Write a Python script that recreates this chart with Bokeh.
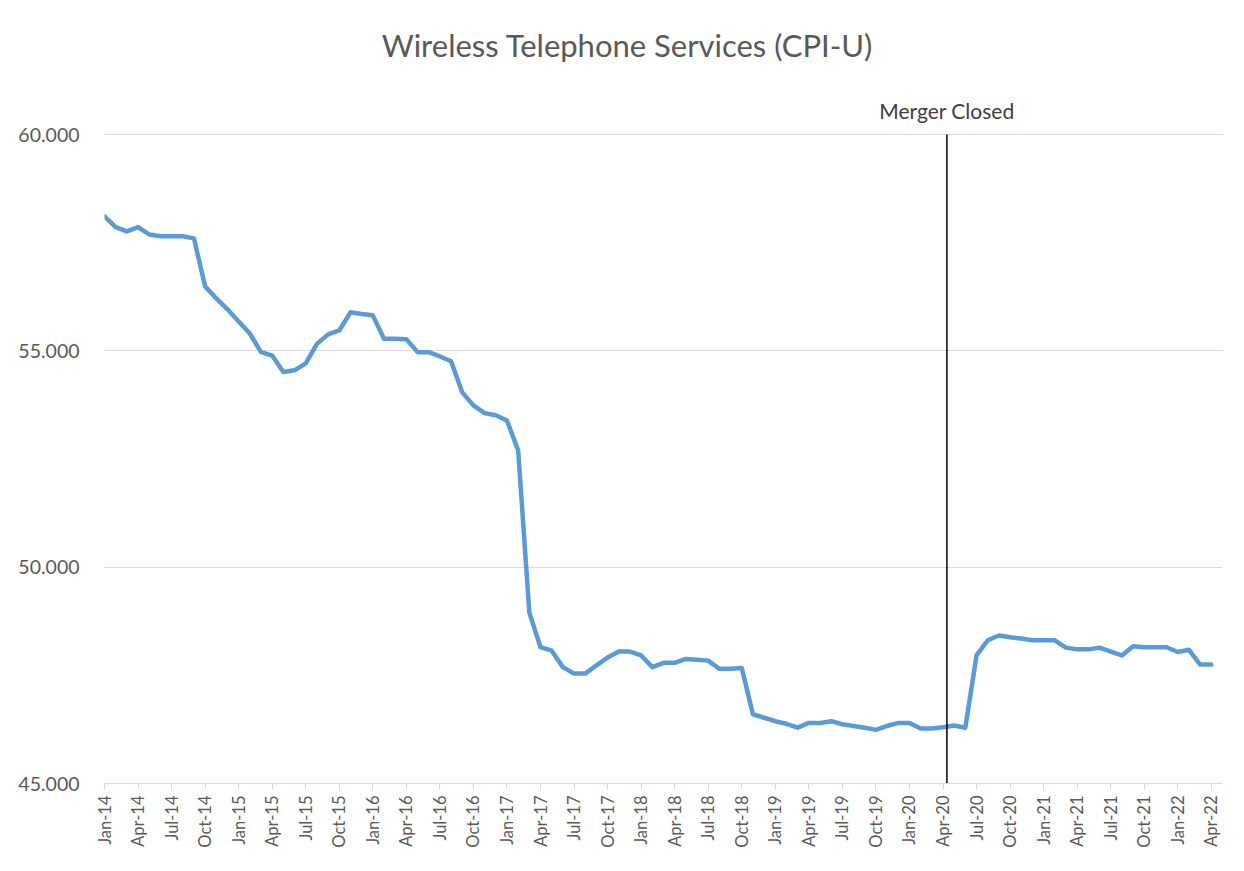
import math
from bokeh.plotting import figure
from bokeh.models import Range1d, FixedTicker, Label, NumeralTickFormatter
from bokeh.embed import file_html
from bokeh.resources import INLINE

TITLE = "Wireless Telephone Services (CPI-U)"

month_labels = [
    "Jan-14", "Feb-14", "Mar-14", "Apr-14", "May-14", "Jun-14", "Jul-14", "Aug-14", "Sep-14", "Oct-14", "Nov-14", "Dec-14",
    "Jan-15", "Feb-15", "Mar-15", "Apr-15", "May-15", "Jun-15", "Jul-15", "Aug-15", "Sep-15", "Oct-15", "Nov-15", "Dec-15",
    "Jan-16", "Feb-16", "Mar-16", "Apr-16", "May-16", "Jun-16", "Jul-16", "Aug-16", "Sep-16", "Oct-16", "Nov-16", "Dec-16",
    "Jan-17", "Feb-17", "Mar-17", "Apr-17", "May-17", "Jun-17", "Jul-17", "Aug-17", "Sep-17", "Oct-17", "Nov-17", "Dec-17",
    "Jan-18", "Feb-18", "Mar-18", "Apr-18", "May-18", "Jun-18", "Jul-18", "Aug-18", "Sep-18", "Oct-18", "Nov-18", "Dec-18",
    "Jan-19", "Feb-19", "Mar-19", "Apr-19", "May-19", "Jun-19", "Jul-19", "Aug-19", "Sep-19", "Oct-19", "Nov-19", "Dec-19",
    "Jan-20", "Feb-20", "Mar-20", "Apr-20", "May-20", "Jun-20", "Jul-20", "Aug-20", "Sep-20", "Oct-20", "Nov-20", "Dec-20",
    "Jan-21", "Feb-21", "Mar-21", "Apr-21", "May-21", "Jun-21", "Jul-21", "Aug-21", "Sep-21", "Oct-21", "Nov-21", "Dec-21",
    "Jan-22", "Feb-22", "Mar-22", "Apr-22",
]

cpi_values = [
    58.11, 57.86, 57.76, 57.86, 57.69, 57.65, 57.65, 57.65, 57.60, 56.49, 56.21, 55.96,
    55.68, 55.40, 54.97, 54.89, 54.51, 54.55, 54.71, 55.16, 55.38, 55.47, 55.89, 55.85,
    55.82, 55.28, 55.28, 55.27, 54.97, 54.97, 54.87, 54.76, 54.04, 53.74, 53.56, 53.51,
    53.39, 52.70, 48.95, 48.15, 48.07, 47.69, 47.54, 47.54, 47.73, 47.91, 48.05, 48.05,
    47.96, 47.69, 47.79, 47.79, 47.88, 47.86, 47.84, 47.65, 47.65, 47.67, 46.60, 46.52,
    46.44, 46.38, 46.29, 46.40, 46.40, 46.44, 46.37, 46.33, 46.29, 46.24, 46.33, 46.40,
    46.40, 46.27, 46.27, 46.30, 46.34, 46.29, 47.96, 48.31, 48.42, 48.38, 48.35, 48.31,
    48.31, 48.31, 48.14, 48.10, 48.10, 48.14, 48.05, 47.96, 48.17, 48.15, 48.15, 48.15,
    48.04, 48.09, 47.75, 47.75,
]

y_ticks = [45, 50, 55, 60]
merger_month = 75.35
merger_text = "Merger Closed"

x_idx = list(range(len(cpi_values)))
tick_pos = x_idx[::3]
tick_overrides = {i: month_labels[i] for i in tick_pos}

FONT = "Lato"
GRAY = "#595959"
LIGHT = "#d9d9d9"

W, H = 1228, 855
LEFT, RIGHT, BOTTOM = 104, 6, 72
TOP_PAD = 134                      # space above the 60 gridline (title area)
axis_px = H - BOTTOM - TOP_PAD     # pixels spanned by 45..60
y_top = y_ticks[-1] + TOP_PAD * (y_ticks[-1] - y_ticks[0]) / axis_px

p = figure(width=W, height=H, output_backend="svg", toolbar_location=None,
           x_range=Range1d(0, len(cpi_values)), y_range=Range1d(y_ticks[0], y_top),
           min_border_left=LEFT, min_border_right=RIGHT, min_border_top=0, min_border_bottom=BOTTOM)
p.outline_line_color = None
p.background_fill_color = "white"
p.border_fill_color = "white"

p.line(x_idx, cpi_values, line_color="#5b9bd5", line_width=4.5, line_join="round", line_cap="round")

p.segment(x0=[merger_month], y0=[y_ticks[0]], x1=[merger_month], y1=[y_ticks[-1]],
          line_color="#000000", line_width=1.5)

p.add_layout(Label(x=merger_month, y=y_ticks[-1], y_offset=24, text=merger_text,
                   text_align="center", text_baseline="middle",
                   text_font=FONT, text_font_size="21px", text_color="#404040"))

p.add_layout(Label(x=0, y=y_ticks[-1], x_offset=523, y_offset=90, text=TITLE,
                   text_align="center", text_baseline="middle",
                   text_font=FONT, text_font_size="31px", text_color=GRAY))

xa = p.xaxis[0]
xa.ticker = FixedTicker(ticks=tick_pos)
xa.major_label_overrides = tick_overrides
xa.major_label_orientation = math.pi / 2
xa.major_label_text_font = FONT
xa.major_label_text_font_size = "16.5px"
xa.major_label_text_color = GRAY
xa.major_label_standoff = 6
xa.axis_line_color = LIGHT
xa.major_tick_line_color = LIGHT
xa.major_tick_in = 0
xa.major_tick_out = 6
xa.minor_tick_line_color = None

ya = p.yaxis[0]
ya.ticker = FixedTicker(ticks=y_ticks)
ya.formatter = NumeralTickFormatter(format="0.000")
ya.major_label_text_font = FONT
ya.major_label_text_font_size = "19.5px"
ya.major_label_text_color = GRAY
ya.major_label_standoff = 19
ya.axis_line_color = None
ya.major_tick_line_color = None
ya.minor_tick_line_color = None

p.xgrid.visible = False
p.ygrid.grid_line_color = LIGHT
p.ygrid.ticker = FixedTicker(ticks=y_ticks)

open("out.html", "w").write(file_html(p, INLINE))
